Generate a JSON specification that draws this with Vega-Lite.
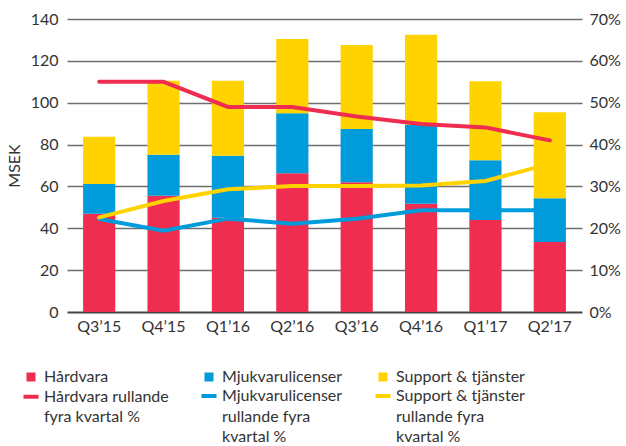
{
  "$schema": "https://vega.github.io/schema/vega-lite/v6.json",
  "width": 515,
  "height": 293,
  "autosize": "none",
  "padding": {"left": 67, "top": 19, "right": 44, "bottom": 134},
  "config": {
    "view": {"stroke": null},
    "font": "Lato",
    "axis": {"labelFont": "Lato", "labelColor": "#333", "labelFontSize": 16, "titleFont": "Lato", "titleColor": "#333", "titleFontWeight": "normal", "titleFontSize": 16, "ticks": false, "domain": false}
  },
  "datasets": {
    "bars": [
      {"q": "Q3’15", "s": "Hårdvara", "v": 47},
      {"q": "Q3’15", "s": "Mjukvarulicenser", "v": 14.2},
      {"q": "Q3’15", "s": "Support & tjänster", "v": 22.5},
      {"q": "Q4’15", "s": "Hårdvara", "v": 55.5},
      {"q": "Q4’15", "s": "Mjukvarulicenser", "v": 19.6},
      {"q": "Q4’15", "s": "Support & tjänster", "v": 35.4},
      {"q": "Q1’16", "s": "Hårdvara", "v": 45},
      {"q": "Q1’16", "s": "Mjukvarulicenser", "v": 29.6},
      {"q": "Q1’16", "s": "Support & tjänster", "v": 35.9},
      {"q": "Q2’16", "s": "Hårdvara", "v": 66.3},
      {"q": "Q2’16", "s": "Mjukvarulicenser", "v": 28.7},
      {"q": "Q2’16", "s": "Support & tjänster", "v": 35.4},
      {"q": "Q3’16", "s": "Hårdvara", "v": 62},
      {"q": "Q3’16", "s": "Mjukvarulicenser", "v": 25.4},
      {"q": "Q3’16", "s": "Support & tjänster", "v": 40.2},
      {"q": "Q4’16", "s": "Hårdvara", "v": 51.7},
      {"q": "Q4’16", "s": "Mjukvarulicenser", "v": 37.8},
      {"q": "Q4’16", "s": "Support & tjänster", "v": 43.0},
      {"q": "Q1’17", "s": "Hårdvara", "v": 44},
      {"q": "Q1’17", "s": "Mjukvarulicenser", "v": 28.5},
      {"q": "Q1’17", "s": "Support & tjänster", "v": 37.8},
      {"q": "Q2’17", "s": "Hårdvara", "v": 33.5},
      {"q": "Q2’17", "s": "Mjukvarulicenser", "v": 20.9},
      {"q": "Q2’17", "s": "Support & tjänster", "v": 41.1}
    ],
    "lines": [
      {"q": "Q3’15", "s": "Hårdvara rullande fyra kvartal %", "p": 0.55},
      {"q": "Q4’15", "s": "Hårdvara rullande fyra kvartal %", "p": 0.55},
      {"q": "Q1’16", "s": "Hårdvara rullande fyra kvartal %", "p": 0.49},
      {"q": "Q2’16", "s": "Hårdvara rullande fyra kvartal %", "p": 0.49},
      {"q": "Q3’16", "s": "Hårdvara rullande fyra kvartal %", "p": 0.467},
      {"q": "Q4’16", "s": "Hårdvara rullande fyra kvartal %", "p": 0.449},
      {"q": "Q1’17", "s": "Hårdvara rullande fyra kvartal %", "p": 0.441},
      {"q": "Q2’17", "s": "Hårdvara rullande fyra kvartal %", "p": 0.41},
      {"q": "Q3’15", "s": "Mjukvarulicenser rullande fyra kvartal %", "p": 0.222},
      {"q": "Q4’15", "s": "Mjukvarulicenser rullande fyra kvartal %", "p": 0.194},
      {"q": "Q1’16", "s": "Mjukvarulicenser rullande fyra kvartal %", "p": 0.223},
      {"q": "Q2’16", "s": "Mjukvarulicenser rullande fyra kvartal %", "p": 0.211},
      {"q": "Q3’16", "s": "Mjukvarulicenser rullande fyra kvartal %", "p": 0.223},
      {"q": "Q4’16", "s": "Mjukvarulicenser rullande fyra kvartal %", "p": 0.243},
      {"q": "Q1’17", "s": "Mjukvarulicenser rullande fyra kvartal %", "p": 0.243},
      {"q": "Q2’17", "s": "Mjukvarulicenser rullande fyra kvartal %", "p": 0.243},
      {"q": "Q3’15", "s": "Support & tjänster rullande fyra kvartal %", "p": 0.226},
      {"q": "Q4’15", "s": "Support & tjänster rullande fyra kvartal %", "p": 0.265},
      {"q": "Q1’16", "s": "Support & tjänster rullande fyra kvartal %", "p": 0.293},
      {"q": "Q2’16", "s": "Support & tjänster rullande fyra kvartal %", "p": 0.301},
      {"q": "Q3’16", "s": "Support & tjänster rullande fyra kvartal %", "p": 0.301},
      {"q": "Q4’16", "s": "Support & tjänster rullande fyra kvartal %", "p": 0.302},
      {"q": "Q1’17", "s": "Support & tjänster rullande fyra kvartal %", "p": 0.313},
      {"q": "Q2’17", "s": "Support & tjänster rullande fyra kvartal %", "p": 0.354}
    ]
  },
  "layer": [
    {
      "data": {"name": "bars"},
      "mark": {"type": "bar"},
      "encoding": {
        "x": {
          "field": "q", "type": "ordinal", "sort": null,
          "scale": {"paddingInner": 0.5, "paddingOuter": 0.25},
          "axis": {"title": null, "labelAngle": 0, "labelPadding": 6, "grid": false}
        },
        "y": {
          "field": "v", "type": "quantitative", "stack": "zero",
          "scale": {"domain": [0, 140], "nice": false},
          "axis": {
            "title": "MSEK", "titlePadding": 8, "values": [0, 20, 40, 60, 80, 100, 120, 140], "labelPadding": 9,
            "grid": true,
            "gridColor": {"condition": {"test": "datum.value === 0", "value": "#444"}, "value": "#6e6e6e"},
            "gridWidth": {"condition": {"test": "datum.value === 0", "value": 2}, "value": 1.5}
          }
        },
        "color": {
          "field": "s", "type": "nominal",
          "scale": {
            "domain": ["Hårdvara", "Mjukvarulicenser", "Support & tjänster", "Hårdvara rullande fyra kvartal %", "Mjukvarulicenser rullande fyra kvartal %", "Support & tjänster rullande fyra kvartal %"],
            "range": ["#EF2D51", "#009BDA", "#FFD300", "#EF2D51", "#009BDA", "#FFD300"]
          },
          "legend": {
            "orient": "none", "legendX": -44, "legendY": 350, "direction": "horizontal", "columns": 3,
            "gridAlign": "each", "columnPadding": 24, "rowPadding": 3, "padding": 0, "title": null,
            "symbolSize": 225, "symbolStrokeWidth": 4,
            "labelFont": "Lato", "labelFontSize": 16, "labelColor": "#333", "labelOffset": 5, "labelLimit": 300,
            "labelBaseline": "top",
            "labelExpr": "datum.label == 'Hårdvara rullande fyra kvartal %' ? ['Hårdvara rullande', 'fyra kvartal %'] : datum.label == 'Mjukvarulicenser rullande fyra kvartal %' ? ['Mjukvarulicenser', 'rullande fyra', 'kvartal %'] : datum.label == 'Support & tjänster rullande fyra kvartal %' ? ['Support & tjänster', 'rullande fyra', 'kvartal %'] : datum.label",
            "encode": {
              "labels": {
                "update": {
                  "dy": {"value": -8},
                  "lineHeight": {"value": 20.5}
                }
              },
              "symbols": {
                "update": {
                  "shape": {"signal": "datum.index < 3 ? 'square' : 'stroke'"},
                  "size": {"signal": "datum.index < 3 ? 81 : 225"},
                  "fill": {"signal": "datum.index < 3 ? scale('color', datum.value) : 'transparent'"},
                  "stroke": {"signal": "scale('color', datum.value)"},
                  "strokeWidth": {"signal": "datum.index < 3 ? 0 : 4"},
                  "opacity": {"value": 1}
                }
              }
            }
          }
        },
        "order": {"field": "s", "sort": "ascending"}
      }
    },
    {
      "data": {"name": "lines"},
      "mark": {"type": "line", "strokeWidth": 4, "strokeCap": "round"},
      "encoding": {
        "x": {"field": "q", "type": "ordinal", "sort": null},
        "y": {
          "field": "p", "type": "quantitative",
          "scale": {"domain": [0, 0.7], "nice": false},
          "axis": {"orient": "right", "title": null, "format": ".0%", "values": [0, 0.1, 0.2, 0.3, 0.4, 0.5, 0.6, 0.7], "grid": false, "labelPadding": 7}
        },
        "color": {"field": "s", "type": "nominal"}
      }
    }
  ],
  "resolve": {"scale": {"y": "independent"}}
}
